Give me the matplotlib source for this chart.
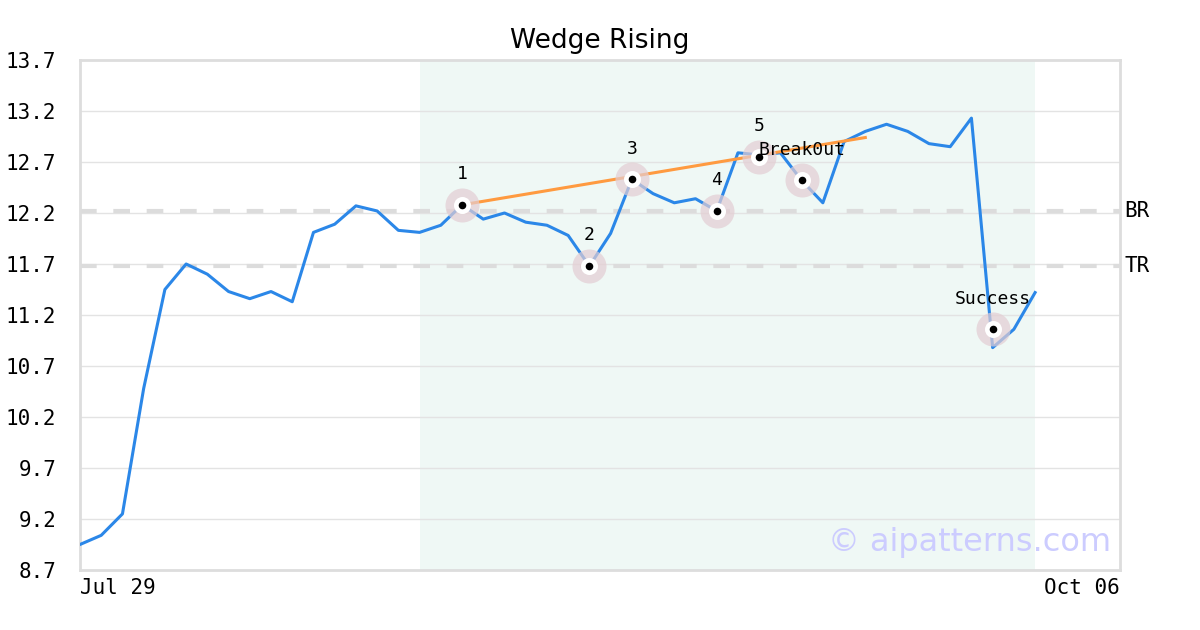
import matplotlib
matplotlib.use('Agg')
import matplotlib.pyplot as plt

# closing prices, one per trading day
prices = [8.95, 9.04, 9.25, 10.48, 11.45, 11.70, 11.60, 11.43, 11.36, 11.43,
          11.33, 12.01, 12.09, 12.27, 12.22, 12.03, 12.01, 12.08, 12.28, 12.14,
          12.20, 12.11, 12.08, 11.98, 11.68, 12.00, 12.53, 12.39, 12.30, 12.34,
          12.22, 12.79, 12.77, 12.79, 12.52, 12.30, 12.90, 13.00, 13.07, 13.00,
          12.88, 12.85, 13.13, 10.88, 11.06, 11.42]

# pattern points
point_idx = [18, 24, 26, 30, 32, 34, 43]
point_val = [12.28, 11.68, 12.53, 12.22, 12.75, 12.52, 11.06]
point_lbl = ['1', '2', '3', '4', '5', 'Break0ut', 'Success']

# upper trend line
trend_idx = [18, 37]
trend_val = [12.28, 12.94]

levels = [12.215, 11.685]
level_lbl = ['BR', 'TR']

pattern_span = [16, 45]
x_ticks = [0, 49]
x_labels = ['Jul 29', 'Oct 06']
y_ticks = [8.7, 9.2, 9.7, 10.2, 10.7, 11.2, 11.7, 12.2, 12.7, 13.2, 13.7]

mono = 'DejaVu Sans Mono'

fig = plt.figure(figsize=(12, 6.3), dpi=100)
ax = fig.add_axes([80 / 1200, 1 - 570 / 630, 1040 / 1200, 510 / 630])

ax.axvspan(pattern_span[0], pattern_span[1], color='#eff8f5', zorder=0, lw=0)

for lv, lb in zip(levels, level_lbl):
    ax.axhline(lv, color='#dcdcdc', lw=3, dashes=(4, 4), zorder=1)
    ax.text(1.004, lv, lb, transform=ax.get_yaxis_transform(), ha='left',
            va='center', fontsize=15, family=mono)

ax.plot(range(len(prices)), prices, color='#2b87e8', lw=2.2, zorder=3)
ax.plot(trend_idx, trend_val, color='#ff9a40', lw=2.2, zorder=4)

ax.scatter(point_idx, point_val, s=600, color='#e3cdd3', alpha=0.7, lw=0, zorder=5)
ax.scatter(point_idx, point_val, s=150, color='white', lw=0, zorder=6)
ax.scatter(point_idx, point_val, s=30, color='black', lw=0, zorder=7)
for xi, yv, lb in zip(point_idx, point_val, point_lbl):
    ax.annotate(lb, (xi, yv), xytext=(0, 22), textcoords='offset points',
                ha='center', va='center', fontsize=13, family=mono, zorder=8)

ax.text(0.9915, 0.053, '\u00a9 aipatterns.com', transform=ax.transAxes,
        ha='right', va='center', fontsize=23, color='#ccccff', zorder=9)

ax.set_xlim(0, 49)
ax.set_ylim(8.7, 13.7)
ax.set_yticks(y_ticks)
ax.set_yticklabels([f'{v:.1f}' for v in y_ticks], family=mono, fontsize=15)
ax.set_xticks(x_ticks)
ax.set_xticklabels(x_labels, family=mono, fontsize=15)
xl = ax.get_xticklabels()
xl[0].set_ha('left')
xl[1].set_ha('right')
ax.tick_params(axis='y', length=0, pad=17)
ax.tick_params(axis='x', length=0, pad=6)
ax.grid(axis='y', color='#e3e3e3', lw=1)
ax.set_axisbelow(True)
for sp in ax.spines.values():
    sp.set_color('#dddddd')
    sp.set_linewidth(2)

ax.set_title('Wedge Rising', fontsize=19, pad=9)

fig.savefig('out.png', dpi=100)
